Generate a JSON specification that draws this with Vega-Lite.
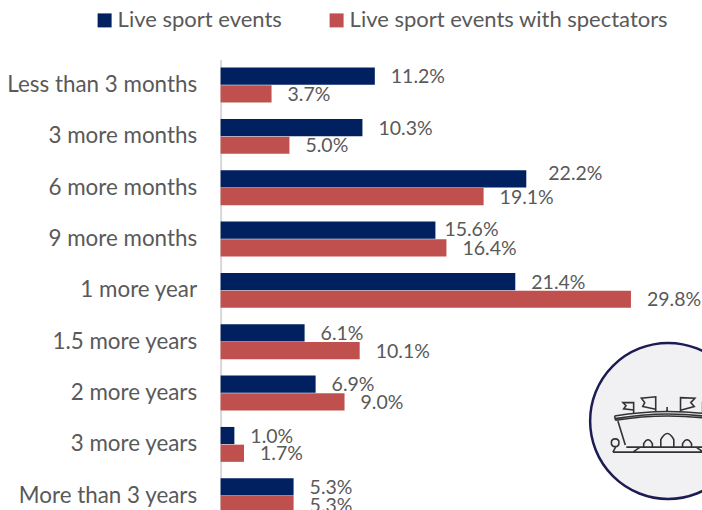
{"$schema":"https://vega.github.io/schema/vega-lite/v6.json","width":481.4,"height":451,"autosize":{"type":"none"},"padding":{"left":220.6,"top":59.4,"right":0,"bottom":0},"background":"white","config":{"view":{"stroke":null},"font":"Lato"},"datasets":{"main":[
{"cat":"Less than 3 months","series":"Live sport events","v":11.2},{"cat":"Less than 3 months","series":"Live sport events with spectators","v":3.7},
{"cat":"3 more months","series":"Live sport events","v":10.3},{"cat":"3 more months","series":"Live sport events with spectators","v":5.0},
{"cat":"6 more months","series":"Live sport events","v":22.2},{"cat":"6 more months","series":"Live sport events with spectators","v":19.1},
{"cat":"9 more months","series":"Live sport events","v":15.6},{"cat":"9 more months","series":"Live sport events with spectators","v":16.4},
{"cat":"1 more year","series":"Live sport events","v":21.4},{"cat":"1 more year","series":"Live sport events with spectators","v":29.8},
{"cat":"1.5 more years","series":"Live sport events","v":6.1},{"cat":"1.5 more years","series":"Live sport events with spectators","v":10.1},
{"cat":"2 more years","series":"Live sport events","v":6.9},{"cat":"2 more years","series":"Live sport events with spectators","v":9.0},
{"cat":"3 more years","series":"Live sport events","v":1.0},{"cat":"3 more years","series":"Live sport events with spectators","v":1.7},
{"cat":"More than 3 years","series":"Live sport events","v":5.3},{"cat":"More than 3 years","series":"Live sport events with spectators","v":5.3}],
"badge":[{"cat":"2 more years","v":32.5}]},
"encoding":{
"y":{"field":"cat","type":"nominal","title":null,"scale":{"domain":["Less than 3 months","3 more months","6 more months","9 more months","1 more year","1.5 more years","2 more years","3 more years","More than 3 years"],"range":[0,462],"paddingInner":0.32,"paddingOuter":0.16},"axis":{"ticks":false,"domainColor":"#d9d9d9","domainWidth":2,"labelFontSize":22.4,"labelFont":"Lato","labelColor":"#595959","labelPadding":24,"labelLimit":220,"labelOffset":0,"grid":false}},
"x":{"field":"v","type":"quantitative","title":null,"scale":{"domain":[0,34.96],"nice":false,"zero":true},"axis":null}},
"layer":[
{"data":{"name":"main"},"mark":{"type":"bar","cornerRadius":0},"encoding":{"yOffset":{"field":"series","type":"nominal","scale":{"paddingInner":0.03}},"color":{"field":"series","type":"nominal","title":null,"scale":{"domain":["Live sport events","Live sport events with spectators"],"range":["#002060","#C0504D"]},"legend":{"orient":"none","legendX":-127,"legendY":-50,"direction":"horizontal","columns":2,"symbolType":"square","symbolSize":196,"symbolStrokeWidth":0,"labelFontSize":22,"labelFont":"Lato","labelColor":"#595959","columnPadding":43,"labelOffset":2,"labelLimit":400,"padding":0}}}},
{"data":{"name":"main"},"transform":[{"filter":"datum.v !== 15.6 && datum.v !== 22.2"},{"calculate":"format(datum.v,'.1f')+'%'","as":"lab"}],"mark":{"type":"text","align":"left","dx":16,"dy":1,"fontSize":19.5,"font":"Lato","color":"#595959"},"encoding":{"yOffset":{"field":"series","type":"nominal","scale":{"paddingInner":0.03}},"text":{"field":"lab","type":"nominal"}}},
{"data":{"name":"main"},"transform":[{"filter":"datum.v === 15.6"},{"calculate":"format(datum.v,'.1f')+'%'","as":"lab"}],"mark":{"type":"text","align":"left","dx":9,"dy":0,"fontSize":19.5,"font":"Lato","color":"#595959"},"encoding":{"yOffset":{"field":"series","type":"nominal","scale":{"paddingInner":0.03}},"text":{"field":"lab","type":"nominal"}}},
{"data":{"name":"main"},"transform":[{"filter":"datum.v === 22.2"},{"calculate":"format(datum.v,'.1f')+'%'","as":"lab"}],"mark":{"type":"text","align":"left","dx":22,"dy":-5,"fontSize":19.5,"font":"Lato","color":"#595959"},"encoding":{"yOffset":{"field":"series","type":"nominal","scale":{"paddingInner":0.03}},"text":{"field":"lab","type":"nominal"}}},
{"data":{"name":"badge"},"mark":{"type":"point","shape":"circle","filled":true,"fill":"#f1f1f3","stroke":"#1c1c54","strokeWidth":2.5,"opacity":1,"size":24336},"encoding":{"y":{"field":"cat","type":"nominal","bandPosition":1.3}}},
{"data":{"name":"badge"},"mark":{"type":"point","filled":false,"fill":"transparent","stroke":"#333333","strokeWidth":1.6,"opacity":1,"size":24336,"shape":"M-.687 -.064 Q0 -.18 .687 -.064 M-.68 -.03 Q0 -.15 .68 -.03 M-.674 -.009 Q0 -.12 .674 -.009 M-.687 -.064 L-.674 -.009 M.687 -.064 L.674 -.009 M-.644 0 L-.549 .309 M.644 0 L.549 .309 M-.536 .335 L.536 .335 M-.708 .399 L.708 .399 M-.708 .399 L-.67 .33 M-.45 .399 L-.36 .335 M.45 .399 L.36 .335 M-.313 .335 V.29 Q-.2575 .19 -.202 .29 V.335 M-.094 .335 V.24 Q-.01 .08 .073 .24 V.335 M.185 .335 V.29 Q.2425 .19 .30 .29 V.335 M-.63 .279 Q-.63 .23 -.678 .23 Q-.728 .23 -.728 .279 Q-.728 .329 -.678 .329 Q-.63 .329 -.63 .279 M-.442 -.107 L-.442 -.236 L-.579 -.236 L-.54 -.195 L-.57 -.155 L-.442 -.14 M-.159 -.12 L-.159 -.31 L-.343 -.292 L-.30 -.236 L-.326 -.185 L-.159 -.15 M-.013 -.18 L-.013 -.12 M.159 -.12 L.159 -.30 L.343 -.292 L.29 -.236 L.335 -.185 L.159 -.137 M.442 -.107 L.442 -.236 L.579 -.236 L.54 -.195 L.57 -.155 L.442 -.14"},"encoding":{"y":{"field":"cat","type":"nominal","bandPosition":1.3}}}
]}
